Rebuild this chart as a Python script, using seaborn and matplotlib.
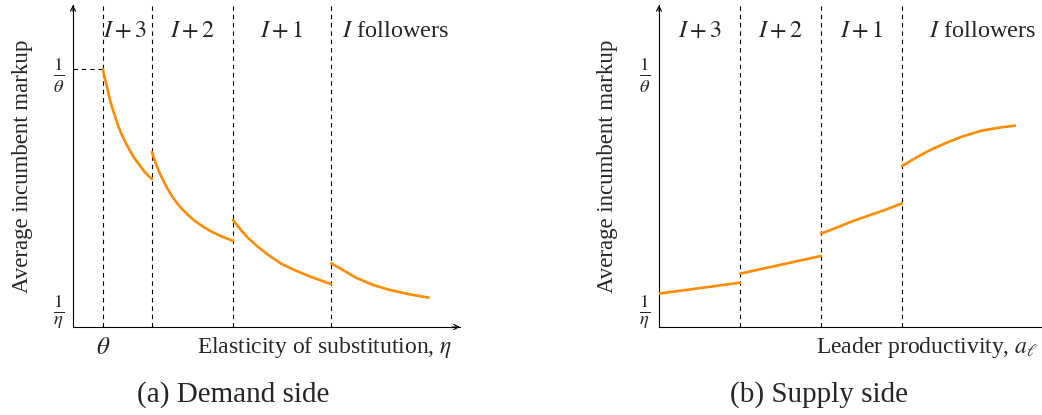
import numpy as np
import pandas as pd
import matplotlib
matplotlib.use("Agg")
import matplotlib.pyplot as plt
import seaborn as sns

# ---------------- data ----------------
# Panel (a): demand side, x = elasticity of substitution (theta = 1)
a_seg1_x = [1.000, 1.010, 1.034, 1.051, 1.068, 1.092, 1.119, 1.153, 1.187,
            1.228, 1.272, 1.323, 1.374, 1.426, 1.500]
a_seg1_y = [2.000, 1.975, 1.937, 1.906, 1.875, 1.840, 1.805, 1.762, 1.727,
            1.692, 1.657, 1.622, 1.594, 1.565, 1.535]
a_seg2_x = [1.500, 1.520, 1.544, 1.579, 1.612, 1.653, 1.697, 1.748, 1.799,
            1.867, 1.936, 2.020, 2.105, 2.207, 2.327]
a_seg2_y = [1.649, 1.623, 1.595, 1.560, 1.532, 1.499, 1.468, 1.438, 1.412,
            1.384, 1.359, 1.335, 1.314, 1.294, 1.274]
a_seg3_x = [2.327, 2.411, 2.480, 2.582, 2.684, 2.819, 2.956, 3.126, 3.327]
a_seg3_y = [1.362, 1.319, 1.287, 1.249, 1.216, 1.178, 1.151, 1.122, 1.092]
a_seg4_x = [3.327, 3.446, 3.582, 3.752, 3.921, 4.126, 4.323]
a_seg4_y = [1.180, 1.152, 1.119, 1.089, 1.068, 1.049, 1.035]
a_bounds = [1.000, 1.500, 2.327, 3.327]

# Panel (b): supply side, x = leader productivity
b_seg1_x = [0.000, 1.000]
b_seg1_y = [1.052, 1.098]
b_seg2_x = [1.000, 2.000]
b_seg2_y = [1.136, 1.211]
b_seg3_x = [2.000, 2.173, 2.379, 2.584, 2.790, 3.000]
b_seg3_y = [1.305, 1.328, 1.356, 1.381, 1.405, 1.433]
b_seg4_x = [3.000, 3.160, 3.325, 3.531, 3.737, 3.984, 4.231, 4.395]
b_seg4_y = [1.590, 1.623, 1.654, 1.686, 1.714, 1.740, 1.754, 1.761]
b_bounds = [1.000, 2.000, 3.000]

inv_theta = 2.0   # 1/theta
inv_eta = 1.0     # 1/eta
theta = 1.0

regime_labels = [r"$I+3$", r"$I+2$", r"$I+1$", r"$I$ followers"]
ytick_labels = [r"$\frac{1}{\eta}$", r"$\frac{1}{\theta}$"]


def frame(segs):
    rows = []
    for k, (xs, ys) in enumerate(segs):
        for x, y in zip(xs, ys):
            rows.append({"x": x, "y": y, "seg": k})
    return pd.DataFrame(rows)


df_a = frame([(a_seg1_x, a_seg1_y), (a_seg2_x, a_seg2_y),
              (a_seg3_x, a_seg3_y), (a_seg4_x, a_seg4_y)])
df_b = frame([(b_seg1_x, b_seg1_y), (b_seg2_x, b_seg2_y),
              (b_seg3_x, b_seg3_y), (b_seg4_x, b_seg4_y)])

# ---------------- style ----------------
sns.set_theme(style="white")
plt.rcParams["font.family"] = ["Liberation Serif", "DejaVu Serif"]
plt.rcParams["mathtext.fontset"] = "stix"

ORANGE = "#FF8C00"
W, H = 1042, 415
fig = plt.figure(figsize=(W / 100, H / 100), dpi=100)
fig.patch.set_facecolor("white")

ax_a = fig.add_axes([73 / W, (H - 327) / H, 387 / W, 322 / H])
ax_b = fig.add_axes([659 / W, (H - 327) / H, 383 / W, 322 / H])

ylim = (0.911, 2.270)
DASH = (0, (4, 3.5))

for ax, df in ((ax_a, df_a), (ax_b, df_b)):
    sns.lineplot(data=df, x="x", y="y", units="seg", estimator=None,
                 color=ORANGE, lw=1.9, ax=ax, sort=False, zorder=3)
    ax.set_ylim(*ylim)
    for s in ("top", "right"):
        ax.spines[s].set_visible(False)
    for s in ("left", "bottom"):
        ax.spines[s].set_color("black")
        ax.spines[s].set_linewidth(0.8)
    ax.set_yticks([inv_eta, inv_theta])
    ax.set_yticklabels(ytick_labels, fontsize=19)
    ax.tick_params(axis="y", direction="inout", length=6, width=0.6,
                   color="#555555", pad=3)
    ax.set_facecolor("white")
    ax.grid(False)
    ax.set_ylabel("Average incumbent markup", fontsize=16.5)

# ---- panel (a) ----
ax_a.set_xlim(0.694, 4.643)
for b in a_bounds:
    ax_a.axvline(b, color="black", ls=DASH, lw=0.8, zorder=1)
ax_a.hlines(inv_theta, 0.694, theta, color="black", ls=DASH, lw=0.8)
ax_a.set_xticks([theta])
ax_a.set_xticklabels([r"$\theta$"], fontsize=18)
ax_a.tick_params(axis="x", direction="inout", length=5, width=0.6,
                 color="#555555", pad=5)
ax_a.set_xlabel(r"Elasticity of substitution, $\eta$", fontsize=17, loc="right")
ax_a.xaxis.set_label_coords(0.981, -0.025)
ax_a.yaxis.set_label_coords(-0.103, 0.5)
for lab, xp in zip(regime_labels, [1.224, 1.918, 2.827, 3.99]):
    ax_a.text(xp, 2.160, lab, fontsize=17.5, ha="center", va="center")

ax_a.annotate("", xy=(1.0, 0), xytext=(0.98, 0), xycoords="axes fraction",
              arrowprops=dict(arrowstyle="->", lw=0.8, color="black",
                              mutation_scale=9, shrinkA=0, shrinkB=0))
ax_a.annotate("", xy=(0, 1.0), xytext=(0, 0.98), xycoords="axes fraction",
              arrowprops=dict(arrowstyle="->", lw=0.8, color="black",
                              mutation_scale=9, shrinkA=0, shrinkB=0))

# ---- panel (b) ----
ax_b.set_xlim(0.0, 383 / 81)
for b in b_bounds:
    ax_b.axvline(b, color="black", ls=DASH, lw=0.8, zorder=1)
ax_b.set_xticks([])
ax_b.set_xlabel(r"Leader productivity, $a_\ell$", fontsize=17, loc="right")
ax_b.xaxis.set_label_coords(0.99, -0.025)
ax_b.yaxis.set_label_coords(-0.107, 0.5)
for lab, xp in zip(regime_labels, [0.506, 1.506, 2.506, 4.0]):
    ax_b.text(xp, 2.160, lab, fontsize=17.5, ha="center", va="center")
ax_b.annotate("", xy=(0, 1.0), xytext=(0, 0.98), xycoords="axes fraction",
              arrowprops=dict(arrowstyle="->", lw=0.8, color="black",
                              mutation_scale=9, shrinkA=0, shrinkB=0))

# ---- captions ----
fig.text(233 / W, 1 - 395 / H, "(a) Demand side", fontsize=21,
         ha="center", va="center")
fig.text(819 / W, 1 - 395 / H, "(b) Supply side", fontsize=21,
         ha="center", va="center")

fig.savefig("out.png", dpi=100, facecolor="white")
